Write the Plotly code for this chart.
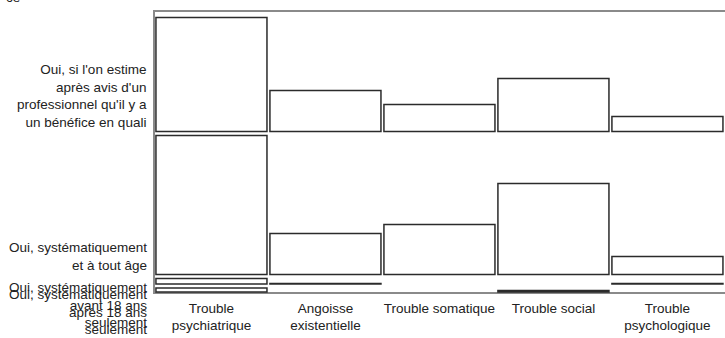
import plotly.graph_objects as go

# ── Data ───────────────────────────────────────────────────────────────────────
categories = [
    "Trouble<br>psychiatrique",
    "Angoisse<br>existentielle",
    "Trouble somatique",
    "Trouble social",
    "Trouble<br>psychologique",
]

row_labels = [
    "Oui, si l'on estime<br>après avis d'un<br>professionnel qu'il y a<br>un bénéfice en quali",
    "Oui, systématiquement<br>et à tout âge",
    "Oui, systématiquement<br>avant 18 ans<br>seulement",
    "Oui, systématiquement<br>après 18 ans<br>seulement",
]

# cell sizes, one list per answer (top row first), one value per category
avis_pro = [114, 41, 27, 53, 15]
tout_age = [139, 41, 50, 91, 18]
avant_18 = [5.5, 0.6, None, None, 0.6]
apres_18 = [4, None, None, 1.4, None]

rows = [avis_pro, tout_age, avant_18, apres_18]

# ── Style ──────────────────────────────────────────────────────────────────────
FONT = "Liberation Sans, Arial, sans-serif"
FSIZE = 13.5
TXT = "#222222"
BOX_LINE = "#2b2b2b"
FRAME = "#8a8a8a"
GAP = 4

# each band is as tall as its biggest cell, stacked from the bottom up
bases = {}
y = 1
for i in reversed(range(len(rows))):
    bases[i] = y
    y += max(v for v in rows[i] if v is not None) + GAP

x_pos = list(range(len(categories)))

fig = go.Figure()
for i, vals in enumerate(rows):
    fig.add_trace(go.Bar(
        x=x_pos,
        y=vals,
        base=bases[i],
        width=0.974,
        marker=dict(color="white", line=dict(color=BOX_LINE, width=1.5)),
        showlegend=False,
        hoverinfo="skip",
    ))

# little separators under the frame between columns
fig.add_trace(go.Scatter(
    x=[p + 0.5 for p in x_pos[:-1]],
    y=[-3] * (len(x_pos) - 1),
    mode="markers",
    marker=dict(symbol="line-ns", size=3, line=dict(color="#555", width=1)),
    cliponaxis=False,
    showlegend=False,
    hoverinfo="skip",
))

annotations = []
label_pos = [
    (bases[0], "bottom", 0),
    (bases[1], "bottom", 0),
    (bases[2] + max(v for v in avant_18 if v), "top", 1),
    (bases[3] + max(v for v in apres_18 if v), "top", 3),
]
for text, (yv, anchor, shift) in zip(row_labels, label_pos):
    annotations.append(dict(
        text=text, x=0, xref="paper", y=yv, yref="y",
        xanchor="right", yanchor=anchor, align="right",
        xshift=-5, yshift=shift, showarrow=False,
        font=dict(family=FONT, size=FSIZE, color=TXT),
    ))

annotations.append(dict(
    text="ce", x=-0.2627, xref="paper", y=1.0142, yref="paper",
    xanchor="left", yanchor="bottom", showarrow=False,
    font=dict(family=FONT, size=FSIZE, color=TXT),
))

fig.update_layout(
    width=725, height=338,
    margin=dict(l=154, r=0, t=11, b=45),
    paper_bgcolor="white",
    plot_bgcolor="white",
    barmode="overlay",
    font=dict(family=FONT, size=FSIZE, color=TXT),
    xaxis=dict(
        range=[-0.504, 4.505],
        tickvals=x_pos,
        ticktext=categories,
        showgrid=False, zeroline=False, showline=False,
        ticks="", ticklabelstandoff=5,
        tickfont=dict(family=FONT, size=FSIZE, color=TXT),
    ),
    yaxis=dict(
        range=[0, 282],
        showgrid=False, zeroline=False, showline=False,
        showticklabels=False, ticks="",
    ),
    shapes=[dict(
        type="rect", xref="paper", yref="paper",
        x0=0, x1=1.05, y0=0, y1=1,
        line=dict(color=FRAME, width=2),
        layer="below",
    )],
    annotations=annotations,
)

fig.write_html(
    "out.html",
    config={"displayModeBar": False},
    post_script="document.body.style.margin='0';document.body.style.overflow='hidden';",
)
